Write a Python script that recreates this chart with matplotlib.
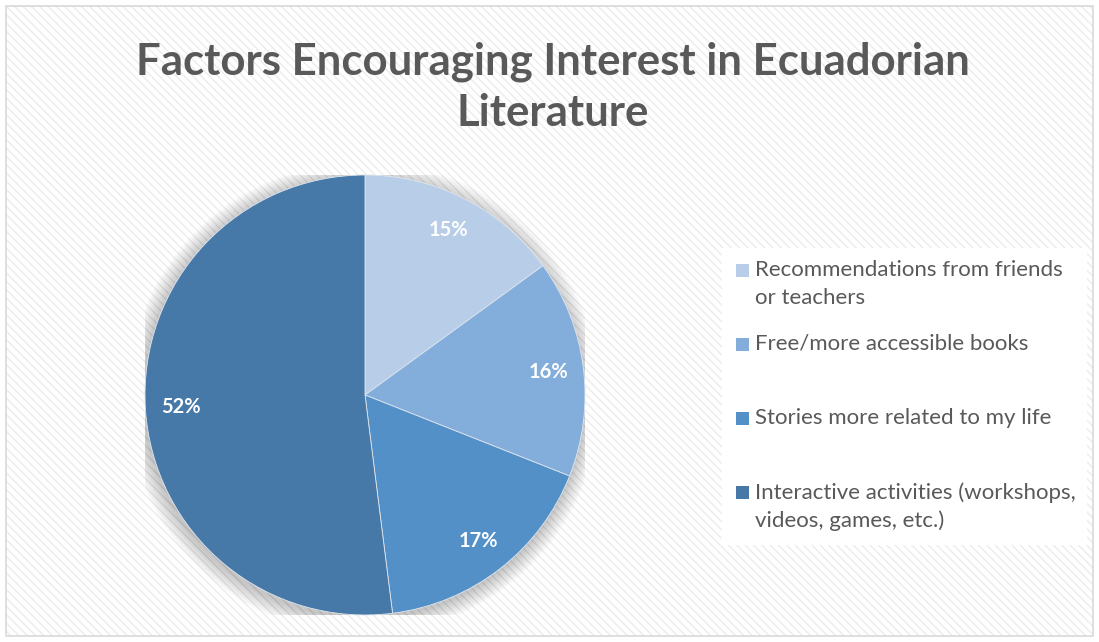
import numpy as np
import matplotlib as mpl; mpl.use('Agg')
import matplotlib.pyplot as plt
from matplotlib.patches import Rectangle, Circle

plt.rcParams['font.family'] = ['Lato', 'DejaVu Sans']
mpl.rcParams['hatch.color'] = '#ececec'

labels = ['Recommendations from friends\nor teachers', 'Free/more accessible books',
          'Stories more related to my life', 'Interactive activities (workshops,\nvideos, games, etc.)']
values = [15, 16, 17, 52]
colors = ['#B7CDE8', '#83AEDB', '#5390C8', '#4678A8']

W, H = 1099, 642
fig = plt.figure(figsize=(W / 100, H / 100), dpi=100)
fig.patch.set_facecolor('white')
# hatched chart area background with light border
fig.patches.append(Rectangle((6 / W, 6 / H), 1087 / W, 630 / H, transform=fig.transFigure,
                             fc='white', ec='#ececec', lw=0, hatch='\\\\\\\\', zorder=-10))
fig.patches.append(Rectangle((6 / W, 6 / H), 1087 / W, 630 / H, transform=fig.transFigure,
                             fc='none', ec='#d9d9d9', lw=1.2, zorder=-9))

fig.text(0.503, 1 - 87 / H, 'Factors Encouraging Interest in Ecuadorian\nLiterature', ha='center', va='center',
         fontsize=31.5, fontweight='bold', color='#595959', linespacing=1.32)

ax = fig.add_axes([145 / W, 27 / H, 440 / W, 440 / H])
ax.axis('off')
# soft shadow around the pie
for i in range(28):
    ax.add_patch(Circle((-0.006, -0.014), 1.0 + 0.0028 * (i + 1), fc='#000000', alpha=0.009,
                        ec='none', zorder=0))
wedges, texts, autotexts = ax.pie(values, colors=colors, startangle=90, counterclock=False, radius=1.0,
                                  autopct='%1.0f%%', pctdistance=0.84,
                                  wedgeprops=dict(lw=0.6, ec='#dfe6ee'),
                                  textprops=dict(color='white', fontsize=14.5, fontweight='bold'))
for w in wedges:
    w.set_zorder(2)
for t in autotexts:
    t.set_zorder(3)
ax.set_xlim(-1.0, 1.0); ax.set_ylim(-1.0, 1.0)

# legend: white box, equal slots, text top-aligned, marker on first line
fig.patches.append(Rectangle((722 / W, 1 - 545 / H), 365 / W, 297 / H, transform=fig.transFigure,
                             fc='white', ec='none', zorder=1))
for i, (lab, c) in enumerate(zip(labels, colors)):
    ytop = 258 + 74 * i
    fig.patches.append(Rectangle((736 / W, 1 - (ytop + 19) / H), 13 / W, 13 / H, transform=fig.transFigure,
                                 fc=c, ec='none', zorder=2))
    fig.text(755 / W, 1 - (ytop + 2) / H, lab, ha='left', va='top', fontsize=16, color='#595959',
             linespacing=1.5, zorder=3)

fig.savefig('out.png', dpi=100)
